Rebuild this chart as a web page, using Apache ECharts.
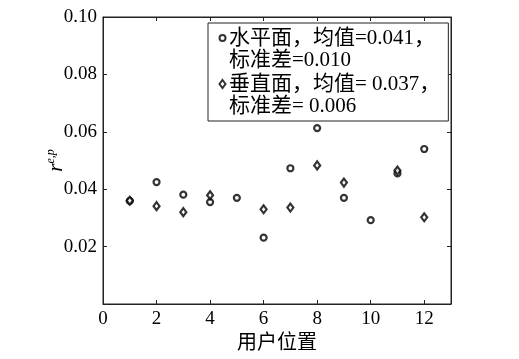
<!DOCTYPE html>
<html>
<head>
<meta charset="utf-8">
<script src="https://cdn.jsdelivr.net/npm/echarts@6/dist/echarts.min.js"></script>
<style>html,body{margin:0;padding:0;background:#fff}#c{width:519px;height:359px}</style>
</head>
<body>
<div id="c"></div>
<script>
var positions = [1,2,3,4,5,6,7,8,9,10,11,12];
var horizontal = [0.0359,0.0425,0.0381,0.0355,0.0370,0.0231,0.0473,0.0613,0.0370,0.0292,0.0455,0.0540];
var verticalPos = [1,2,3,4,6,7,8,9,11,12];
var vertical = [0.0360,0.0341,0.0320,0.0379,0.0330,0.0336,0.0483,0.0423,0.0465,0.0302];
var seriesNames = ['水平面，均值=0.041，\n标准差=0.010', '垂直面，均值= 0.037，\n标准差= 0.006'];
var xAxisName = '用户位置';

var FONT = '"Liberation Serif", "Noto Sans CJK SC", serif';
function pairs(xs, ys){ return xs.map(function(x,i){ return [x, ys[i]]; }); }

var circleIcon = 'path://M0,0 M9,44 M7.5,11 A3,3 0 1 1 1.5,11 A3,3 0 1 1 7.5,11 Z';
var diamondIcon = 'path://M0,0 M9,44 M4.5,7 L7.5,11 L4.5,15 L1.5,11 Z';

function axLine(){ return {show:true, onZero:false, lineStyle:{color:'#222', width:1}}; }
function axTick(){ return {show:true, inside:true, length:4, lineStyle:{color:'#222', width:1}}; }

var chart = echarts.init(document.getElementById('c'), null, {renderer:'canvas'});
chart.setOption({
  animation:false,
  backgroundColor:'#fff',
  grid:{left:103, right:68, top:17, bottom:55, show:true, borderColor:'#222', borderWidth:1, backgroundColor:'transparent'},
  xAxis:[{
    type:'value', min:0, max:13, interval:2, position:'bottom',
    axisLine:axLine(), axisTick:axTick(),
    axisLabel:{color:'#000', fontFamily:FONT, fontSize:19, margin:6, showMaxLabel:false},
    splitLine:{show:false},
    name:xAxisName, nameLocation:'middle', nameGap:30, nameMoveOverlap:false,
    nameTextStyle:{color:'#000', fontFamily:FONT, fontSize:20}
  },{
    type:'value', min:0, max:13, interval:2, position:'top', show:true,
    axisLine:axLine(), axisTick:axTick(),
    axisLabel:{show:false}, splitLine:{show:false}
  }],
  yAxis:[{
    type:'value', min:0, max:0.10, interval:0.02, position:'left',
    axisLine:axLine(), axisTick:axTick(),
    axisLabel:{color:'#000', fontFamily:FONT, fontSize:19, margin:6,
      formatter:function(v){ return v===0 ? '' : v.toFixed(2); }},
    splitLine:{show:false},
    name:'{r|r}{s|e,p}', nameLocation:'middle', nameGap:36, nameRotate:90, nameMoveOverlap:false,
    nameTextStyle:{rich:{
      r:{fontFamily:FONT, fontStyle:'italic', fontSize:21, color:'#000'},
      s:{fontFamily:FONT, fontStyle:'italic', fontSize:12, color:'#000', verticalAlign:'top', padding:[0,0,10,0]}
    }}
  },{
    type:'value', min:0, max:0.10, interval:0.02, position:'right', show:true,
    axisLine:axLine(), axisTick:axTick(),
    axisLabel:{show:false}, splitLine:{show:false}
  }],
  legend:{
    left:208, top:23,
    orient:'vertical', itemGap:0,
    padding:[3,8,3,9],
    borderColor:'#222', borderWidth:1, backgroundColor:'#fff',
    itemWidth:9, itemHeight:44,
    textStyle:{fontFamily:FONT, fontSize:21, lineHeight:22, color:'#000', padding:[0,0,0,-3]},
    data:[{name:seriesNames[0], icon:circleIcon},{name:seriesNames[1], icon:diamondIcon}]
  },
  series:[{
    name:seriesNames[0], type:'scatter', symbol:'circle', symbolSize:6, xAxisIndex:0, yAxisIndex:0,
    itemStyle:{color:'#fff', borderColor:'#000', borderWidth:2.2},
    data:pairs(positions, horizontal)
  },{
    name:seriesNames[1], type:'scatter', symbol:'diamond', symbolSize:[6,8], xAxisIndex:0, yAxisIndex:0,
    itemStyle:{color:'#fff', borderColor:'#000', borderWidth:2.2},
    data:pairs(verticalPos, vertical)
  }]
});
</script>
</body>
</html>
